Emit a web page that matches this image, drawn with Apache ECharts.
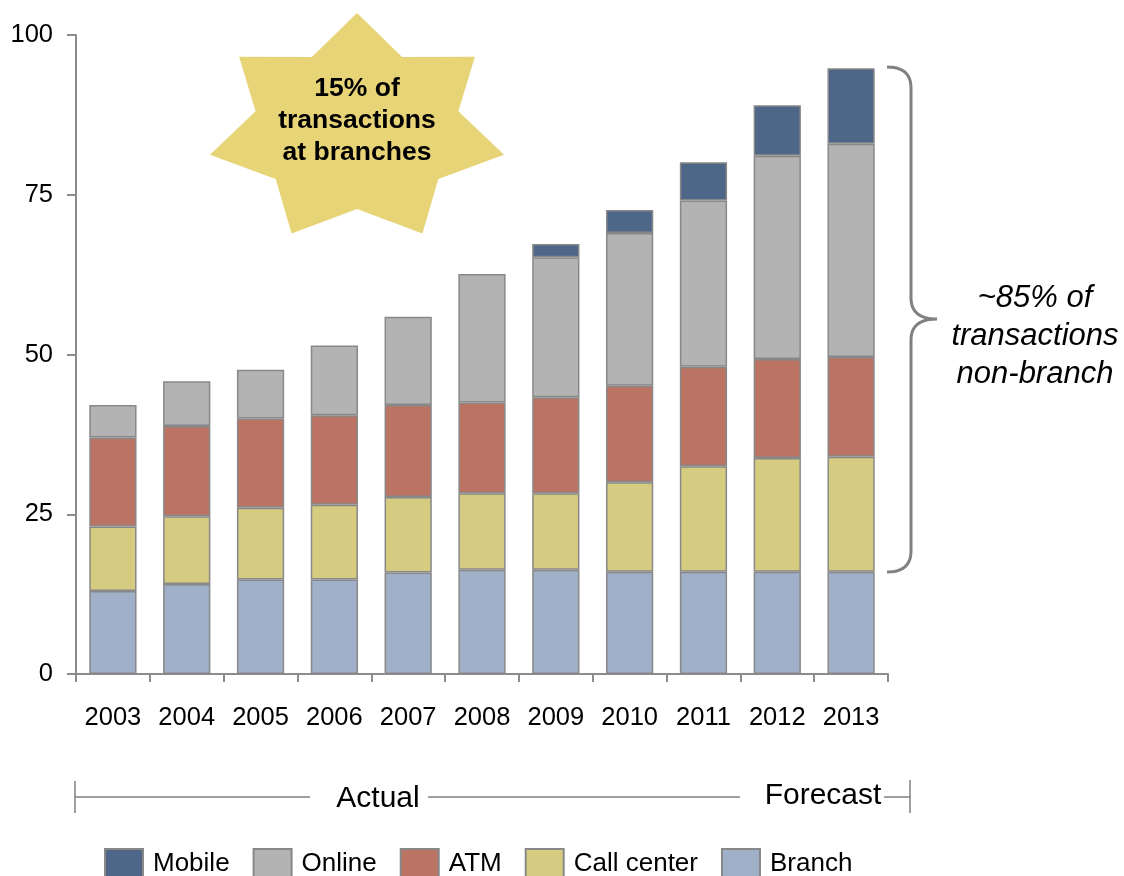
<!DOCTYPE html>
<html>
<head>
<meta charset="utf-8">
<script src="https://cdn.jsdelivr.net/npm/echarts@6/dist/echarts.min.js"></script>
<style>
html,body{margin:0;padding:0;background:#fff;}
#chart{width:1124px;height:876px;}
</style>
</head>
<body>
<div id="chart"></div>
<script>
var years = ['2003','2004','2005','2006','2007','2008','2009','2010','2011','2012','2013'];
var branch     = [13.0, 14.1, 14.8, 14.8, 15.9, 16.3, 16.3, 16.0, 16.0, 16.0, 16.0];
var callCenter = [10.1, 10.6, 11.2, 11.7, 11.8, 12.0, 12.0, 14.0, 16.5, 17.8, 18.0];
var atm        = [13.9, 14.1, 14.0, 14.0, 14.4, 14.2, 15.0, 15.1, 15.6, 15.5, 15.6];
var online     = [5.1, 7.0, 7.6, 10.9, 13.8, 20.1, 21.9, 23.9, 26.0, 31.8, 33.4];
var mobile     = [null, null, null, null, null, null, 2.1, 3.6, 6.0, 7.9, 11.8];
var yTicks = [0, 25, 50, 75, 100];
var legendOrder = ['Mobile', 'Online', 'ATM', 'Call center', 'Branch'];

var FONT = '"Liberation Sans", Arial, sans-serif';
var BORDER = '#888888';

// star shape (annotation)
function starPoints(cx, cy, R, r, n, sx) {
  var pts = [];
  for (var i = 0; i < 2 * n; i++) {
    var a = (-90 + i * 180 / n) * Math.PI / 180;
    var rad = (i % 2 === 0) ? R : r;
    pts.push([cx + rad * Math.cos(a) * sx, cy + rad * Math.sin(a)]);
  }
  return pts;
}
// brace shape (annotation)
function quad(p0, c, p1, steps, out) {
  for (var i = 1; i <= steps; i++) {
    var t = i / steps;
    var x = (1-t)*(1-t)*p0[0] + 2*(1-t)*t*c[0] + t*t*p1[0];
    var y = (1-t)*(1-t)*p0[1] + 2*(1-t)*t*c[1] + t*t*p1[1];
    out.push([x, y]);
  }
}
function bracePoints() {
  var p = [[887, 67]];
  quad([887, 67], [911, 67], [911, 88], 12, p);
  p.push([911, 298]);
  quad([911, 298], [911, 319], [937, 319], 12, p);
  quad([937, 319], [911, 319], [911, 340], 12, p);
  p.push([911, 551]);
  quad([911, 551], [911, 572], [887, 572], 12, p);
  return p;
}

function mkSeries(name, data, color) {
  return {
    name: name, type: 'bar', stack: 'total', data: data,
    barCategoryGap: '36%',
    itemStyle: { color: color, borderColor: BORDER, borderWidth: 1.5 },
    emphasis: { disabled: true }
  };
}

var chart = echarts.init(document.getElementById('chart'), null, { renderer: 'canvas' });
chart.setOption({
  animation: false,
  backgroundColor: '#ffffff',
  grid: { left: 76, right: 236, top: 35, bottom: 202, containLabel: false },
  legend: {
    data: legendOrder,
    left: 104, top: 848, padding: 0,
    itemWidth: 38, itemHeight: 29, itemGap: 23,
    icon: 'rect',
    selectedMode: false,
    textStyle: { fontFamily: FONT, fontSize: 26, color: '#000', padding: [0, 0, 0, 5] }
  },
  xAxis: {
    type: 'category', data: years,
    axisLine: { lineStyle: { color: '#8c8c8c', width: 2 } },
    axisTick: { show: true, length: 8, lineStyle: { color: '#8c8c8c', width: 2 } },
    axisLabel: { fontFamily: FONT, fontSize: 25.5, color: '#000', margin: 31 }
  },
  yAxis: {
    type: 'value', min: yTicks[0], max: yTicks[yTicks.length - 1], interval: 25,
    axisLine: { show: true, lineStyle: { color: '#8c8c8c', width: 2 } },
    axisTick: { show: true, length: 9, lineStyle: { color: '#8c8c8c', width: 2 } },
    splitLine: { show: false },
    axisLabel: { fontFamily: FONT, fontSize: 25.5, color: '#000', margin: 23 }
  },
  series: [
    mkSeries('Branch', branch, '#9fb0c8'),
    mkSeries('Call center', callCenter, '#d5cb81'),
    mkSeries('ATM', atm, '#bb7464'),
    mkSeries('Online', online, '#b3b3b3'),
    mkSeries('Mobile', mobile, '#4e6688')
  ],
  graphic: [
    { type: 'polygon', shape: { points: starPoints(357, 129, 116, 80, 7, 1.3) },
      style: { fill: '#e6d477', stroke: null }, z: 10 },
    { type: 'text', z: 11,
      style: { text: '15% of\ntransactions\nat branches', x: 357, y: 121,
               font: 'bold 26.5px ' + FONT, fill: '#000', lineHeight: 32,
               align: 'center', verticalAlign: 'middle',
               textAlign: 'center', textVerticalAlign: 'middle' } },
    { type: 'polyline', shape: { points: bracePoints() },
      style: { stroke: '#808080', lineWidth: 3, fill: null }, z: 10 },
    { type: 'text', z: 11,
      style: { text: '~85% of\ntransactions\nnon-branch', x: 1035, y: 336,
               font: 'italic 31px ' + FONT, fill: '#000', lineHeight: 38,
               align: 'center', verticalAlign: 'middle',
               textAlign: 'center', textVerticalAlign: 'middle' } },
    // Actual / Forecast bracket
    { type: 'line', shape: { x1: 75, y1: 781, x2: 75, y2: 813 }, style: { stroke: '#808080', lineWidth: 1.5 } },
    { type: 'line', shape: { x1: 75, y1: 797, x2: 310, y2: 797 }, style: { stroke: '#808080', lineWidth: 1.5 } },
    { type: 'text', style: { text: 'Actual', x: 378, y: 799, font: '30px ' + FONT, fill: '#000',
               align: 'center', verticalAlign: 'middle', textAlign: 'center', textVerticalAlign: 'middle' } },
    { type: 'line', shape: { x1: 428, y1: 797, x2: 740, y2: 797 }, style: { stroke: '#808080', lineWidth: 1.5 } },
    { type: 'text', style: { text: 'Forecast', x: 823, y: 796, font: '30px ' + FONT, fill: '#000',
               align: 'center', verticalAlign: 'middle', textAlign: 'center', textVerticalAlign: 'middle' } },
    { type: 'line', shape: { x1: 884, y1: 797, x2: 910, y2: 797 }, style: { stroke: '#808080', lineWidth: 1.5 } },
    { type: 'line', shape: { x1: 910, y1: 780, x2: 910, y2: 813 }, style: { stroke: '#808080', lineWidth: 1.5 } }
  ]
});
</script>
</body>
</html>
